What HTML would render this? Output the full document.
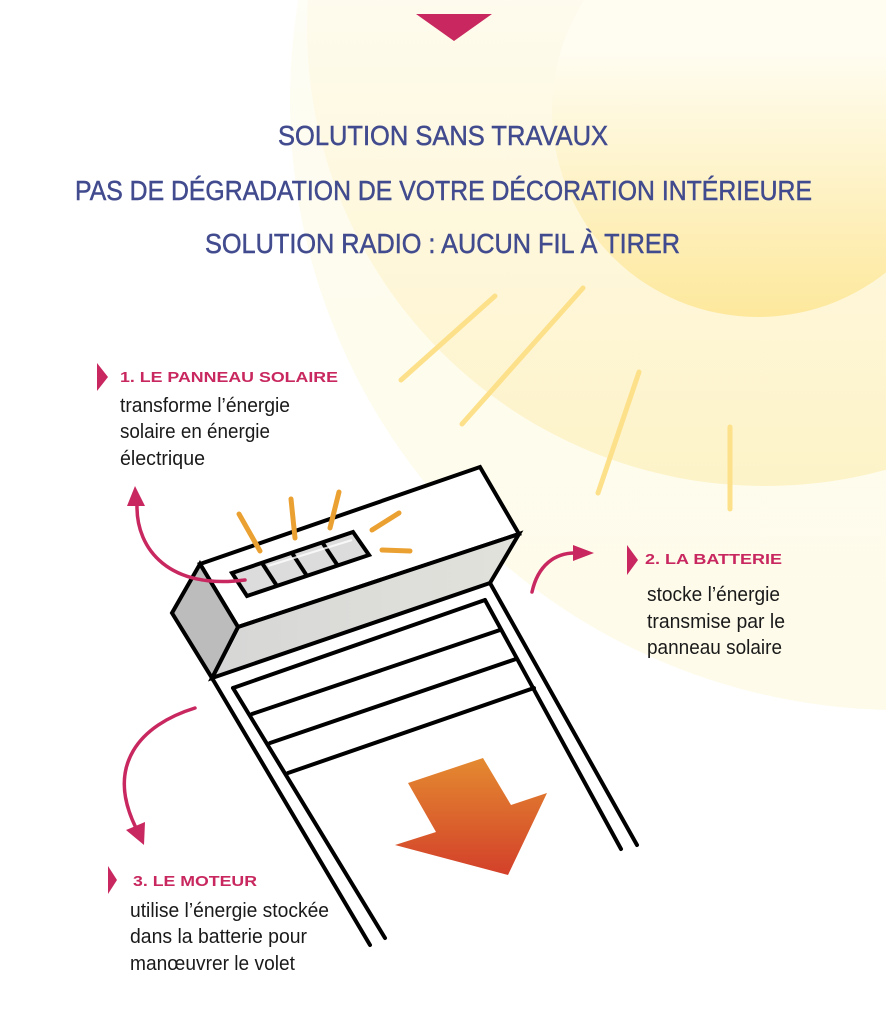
<!DOCTYPE html>
<html><head><meta charset="utf-8"><style>
html,body{margin:0;padding:0;background:#fff;}
svg{display:block;}
</style></head><body>
<svg width="886" height="1016" viewBox="0 0 886 1016" xmlns="http://www.w3.org/2000/svg">
<defs>
<linearGradient id="inner" x1="0" y1="0" x2="0" y2="1">
<stop offset="0.35" stop-color="#fffdf2"/><stop offset="1" stop-color="#fde89c"/></linearGradient>
<linearGradient id="mid" x1="0" y1="0" x2="0" y2="1">
<stop offset="0.3" stop-color="#fffefa"/><stop offset="1" stop-color="#fdf3c8"/></linearGradient>
<linearGradient id="outer" x1="0" y1="0" x2="0" y2="1">
<stop offset="0.2" stop-color="#ffffff"/><stop offset="0.6" stop-color="#fefcee"/><stop offset="1" stop-color="#fefbea"/></linearGradient>
<linearGradient id="arr" x1="0" y1="0" x2="0" y2="1">
<stop offset="0" stop-color="#e48a30"/><stop offset="1" stop-color="#d3402a"/></linearGradient>
<linearGradient id="front" x1="0" y1="0" x2="1" y2="0">
<stop offset="0" stop-color="#d6d6d6"/><stop offset="1" stop-color="#e2e2dc"/></linearGradient>
</defs>
<rect width="886" height="1016" fill="#fff"/>
<circle cx="900" cy="100" r="610" fill="url(#outer)"/>
<circle cx="765" cy="28" r="458" fill="url(#mid)"/>
<circle cx="758" cy="111" r="206" fill="url(#inner)"/>
<g stroke="#fde08a" stroke-width="5" stroke-linecap="round">
<line x1="401" y1="380" x2="495" y2="296"/>
<line x1="462" y1="424" x2="583" y2="288"/>
<line x1="598" y1="493" x2="639" y2="372"/>
<line x1="730" y1="427" x2="730" y2="509"/>
</g>
<polygon points="416,14 492,14 454,41" fill="#c8285f"/>
<g fill="#414b8e" stroke="#414b8e" stroke-width="0.5" font-family="'Liberation Sans',sans-serif" font-size="28">
<text x="278" y="145" textLength="330" lengthAdjust="spacingAndGlyphs">SOLUTION SANS TRAVAUX</text>
<text x="75" y="200" textLength="737" lengthAdjust="spacingAndGlyphs">PAS DE DÉGRADATION DE VOTRE DÉCORATION INTÉRIEURE</text>
<text x="205" y="253" textLength="475" lengthAdjust="spacingAndGlyphs">SOLUTION RADIO : AUCUN FIL À TIRER</text>
</g>
<g stroke="#000" stroke-width="4" fill="none" stroke-linecap="round">
<line x1="212" y1="678" x2="370" y2="945"/>
<line x1="233" y1="688" x2="385" y2="938"/>
<line x1="490" y1="583" x2="637" y2="845"/>
<line x1="485" y1="600" x2="621" y2="849"/>
<line x1="233" y1="688" x2="485" y2="600"/>
<line x1="252" y1="714" x2="500" y2="630"/>
<line x1="270" y1="743" x2="516" y2="659"/>
<line x1="288" y1="773" x2="534" y2="688"/>
</g>
<g stroke="#000" stroke-width="4" stroke-linejoin="miter">
<polygon points="200,564 480,467 519,534 238,627" fill="#fff"/>
<polygon points="238,627 519,534 490,583 212,678" fill="url(#front)"/>
<polygon points="200,564 172,613 212,678 238,627" fill="#bcbcbc"/>
<polygon points="232,573 353,532 369,555 247,596" fill="#dcdcdc"/>
<line x1="262" y1="563" x2="277" y2="586"/>
<line x1="292" y1="553" x2="307" y2="576"/>
<line x1="322" y1="542" x2="338" y2="566"/>
</g>
<line x1="268" y1="566" x2="352" y2="540" stroke="#fff" stroke-width="2" opacity="0.8"/>
<g stroke="#eba132" stroke-width="5" stroke-linecap="round">
<line x1="239" y1="514" x2="260" y2="551"/>
<line x1="291" y1="499" x2="295" y2="538"/>
<line x1="339" y1="492" x2="330" y2="528"/>
<line x1="399" y1="513" x2="372" y2="530"/>
<line x1="382" y1="550" x2="410" y2="551"/>
</g>
<polygon points="408,783 483,758 511,805 547,793 508,875 395,845 436,832" fill="url(#arr)"/>
<g stroke="#c8285f" stroke-width="3.5" fill="none" stroke-linecap="round">
<path d="M137,505 C136,550 170,590 245,580"/>
<path d="M532,592 C538,565 555,553 575,553"/>
<path d="M195,708 C140,725 105,765 136,828"/>
</g>
<g fill="#c8285f">
<polygon points="135,486 127,506 145,506"/>
<polygon points="594,553 573,545 573,561"/>
<polygon points="144,845 126,830 145,822"/>
<polygon points="97,363 108,377 97,391"/>
<polygon points="627,545 638,560 627,575"/>
<polygon points="108,866 117,880 108,894"/>
</g>
<g fill="#c8285f" font-family="'Liberation Sans',sans-serif" font-weight="bold" font-size="15">
<text x="120" y="382" textLength="218" lengthAdjust="spacingAndGlyphs">1. LE PANNEAU SOLAIRE</text>
<text x="645" y="564" textLength="137" lengthAdjust="spacingAndGlyphs">2. LA BATTERIE</text>
<text x="133" y="886" textLength="124" lengthAdjust="spacingAndGlyphs">3. LE MOTEUR</text>
</g>
<g fill="#1a1a1a" font-family="'Liberation Sans',sans-serif" font-size="20">
<text x="120" y="412" textLength="170" lengthAdjust="spacingAndGlyphs">transforme l’énergie</text>
<text x="120" y="438" textLength="150" lengthAdjust="spacingAndGlyphs">solaire en énergie</text>
<text x="120" y="465" textLength="85" lengthAdjust="spacingAndGlyphs">électrique</text>
<text x="647" y="601" textLength="133" lengthAdjust="spacingAndGlyphs">stocke l’énergie</text>
<text x="647" y="628" textLength="138" lengthAdjust="spacingAndGlyphs">transmise par le</text>
<text x="647" y="654" textLength="135" lengthAdjust="spacingAndGlyphs">panneau solaire</text>
<text x="130" y="917" textLength="199" lengthAdjust="spacingAndGlyphs">utilise l’énergie stockée</text>
<text x="130" y="943" textLength="177" lengthAdjust="spacingAndGlyphs">dans la batterie pour</text>
<text x="130" y="970" textLength="165" lengthAdjust="spacingAndGlyphs">manœuvrer le volet</text>
</g>
</svg>
</body></html>
